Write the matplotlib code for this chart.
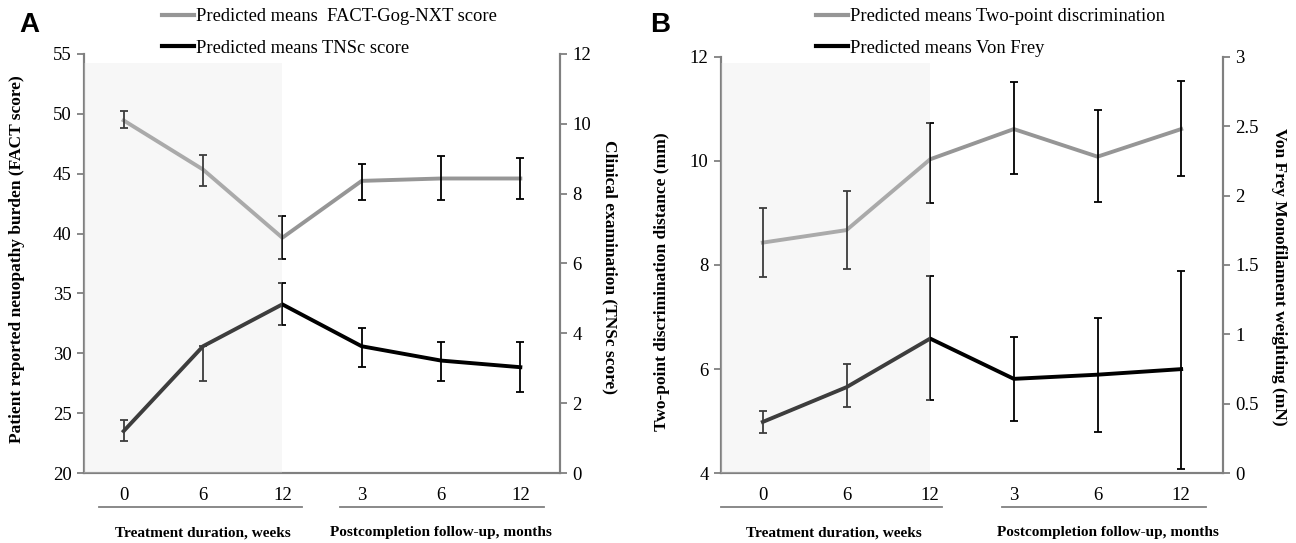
import matplotlib
matplotlib.use('Agg')
import matplotlib.pyplot as plt
import matplotlib.transforms as mtransforms
from matplotlib.patches import Rectangle
from matplotlib.lines import Line2D
import numpy as np

plt.rcParams['font.family'] = ['Liberation Serif', 'DejaVu Serif']

# 数据
x_labels = ['0', '6', '12', '3', '6', '12']

fact_mean = [49.45, 45.35, 39.65, 44.4, 44.6, 44.6]
fact_lo = [48.8, 44.0, 37.9, 42.8, 42.8, 42.9]
fact_hi = [50.2, 46.6, 41.5, 45.85, 46.45, 46.3]

tnsc_mean = [1.2, 3.63, 4.83, 3.63, 3.22, 3.03]
tnsc_lo = [0.91, 2.64, 4.25, 3.03, 2.64, 2.31]
tnsc_hi = [1.52, 3.63, 5.45, 4.15, 3.75, 3.75]

twopt_mean = [8.43, 8.67, 10.03, 10.61, 10.08, 10.61]
twopt_lo = [7.77, 7.92, 9.19, 9.74, 9.2, 9.71]
twopt_hi = [9.09, 9.42, 10.72, 11.52, 10.97, 11.54]

vf_mean = [0.37, 0.62, 0.97, 0.68, 0.71, 0.75]
vf_lo = [0.29, 0.48, 0.53, 0.38, 0.30, 0.03]
vf_hi = [0.45, 0.79, 1.42, 0.98, 1.12, 1.46]

GRAY = '#969696'
SPINE = '#808080'
FS = 12.5
TICK_FS = 13.5


def draw_panel(fig, rect, left, right, ylim_l, yticks_l, ylim_r, yticks_r, rticklabels,
               shade_top, under_l, under_r, grp_x):
    x = np.arange(len(x_labels))
    ax = fig.add_axes(rect)
    ax2 = ax.twinx()
    m, lo, hi = left
    ax.plot(x, m, color=GRAY, lw=2.8, zorder=3)
    ax.errorbar(x, m, yerr=[np.array(m) - np.array(lo), np.array(hi) - np.array(m)],
                fmt='none', ecolor='black', elinewidth=1.3, capsize=3.2, capthick=1.3, zorder=4)
    m, lo, hi = right
    ax2.plot(x, m, color='black', lw=2.8, zorder=3)
    ax2.errorbar(x, m, yerr=[np.array(m) - np.array(lo), np.array(hi) - np.array(m)],
                 fmt='none', ecolor='black', elinewidth=1.3, capsize=3.2, capthick=1.3, zorder=4)

    # 治疗期阴影（半透明覆盖）
    trans = mtransforms.blended_transform_factory(ax2.transData, ax2.transAxes)
    ax2.add_patch(Rectangle((-0.5, 0), 2.5, shade_top, transform=trans,
                            facecolor='#e2e2e2', alpha=0.27, edgecolor='none', zorder=10))

    ax.set_xlim(-0.5, 5.5)
    ax.set_ylim(*ylim_l)
    ax.set_yticks(yticks_l)
    ax2.set_ylim(*ylim_r)
    ax2.set_yticks(yticks_r)
    ax2.set_yticklabels(rticklabels)
    ax.set_xticks(x)
    ax.set_xticklabels(x_labels)
    ax.tick_params(axis='x', length=0, pad=10, labelsize=TICK_FS)
    ax.tick_params(axis='y', length=5, width=1.3, color=SPINE, pad=4, labelsize=TICK_FS)
    ax2.tick_params(axis='y', length=5, width=1.3, color=SPINE, pad=4, labelsize=TICK_FS)
    for a in (ax, ax2):
        a.spines['top'].set_visible(False)
        for s in ('left', 'right', 'bottom'):
            a.spines[s].set_color(SPINE)
            a.spines[s].set_linewidth(1.5)

    tb = mtransforms.blended_transform_factory(ax.transData, ax.transAxes)
    for x0, x1 in (under_l, under_r):
        ax.add_line(Line2D([x0, x1], [-0.082, -0.082], transform=tb, color=SPINE,
                           lw=1.3, clip_on=False))
    ax.text(grp_x[0], -0.143, 'Treatment duration, weeks', transform=tb, ha='center',
            va='center', fontsize=11, fontweight='bold')
    ax.text(grp_x[1], -0.143, 'Postcompletion follow-up, months', transform=tb, ha='center',
            va='center', fontsize=11, fontweight='bold')
    return ax, ax2


fig = plt.figure(figsize=(12.96, 5.43), dpi=100)

# A
axA, axA2 = draw_panel(fig, [84 / 1296, 0.1289, 476 / 1296, 0.7717],
                       (fact_mean, fact_lo, fact_hi), (tnsc_mean, tnsc_lo, tnsc_hi),
                       (20, 55), [20, 25, 30, 35, 40, 45, 50, 55],
                       (0, 12), [0, 2, 4, 6, 8, 10, 12], ['0', '2', '4', '6', '8', '10', '12'],
                       0.978, (-0.315, 2.25), (2.73, 5.30), (1.0, 4.0))
hA = [Line2D([], [], color=GRAY, lw=3), Line2D([], [], color='black', lw=3)]
axA.legend(hA, ['Predicted means  FACT-Gog-NXT score', 'Predicted means TNSc score'],
           loc='upper left', bbox_to_anchor=(162 / 1296, 1 - 8 / 543), bbox_transform=fig.transFigure,
           frameon=False, borderpad=0, borderaxespad=0, handlelength=1.75, handletextpad=0.1,
           labelspacing=0.8, fontsize=13.3)

fig.text(17 / 1296, 0.523, 'Patient reported neuopathy burden (FACT score)', rotation=90,
         ha='center', va='center', fontsize=FS, fontweight='bold')
fig.text(610 / 1296, 0.508, 'Clinical examination (TNSc score)', rotation=270,
         ha='center', va='center', fontsize=FS, fontweight='bold')

# B
axB, axB2 = draw_panel(fig, [721 / 1296, 0.1284, 502 / 1296, 0.7672],
                       (twopt_mean, twopt_lo, twopt_hi), (vf_mean, vf_lo, vf_hi),
                       (4, 12), [4, 6, 8, 10, 12],
                       (0, 3), [0, 0.5, 1, 1.5, 2, 2.5, 3], ['0', '0.5', '1', '1.5', '2', '2.5', '3'],
                       0.985, (-0.5, 2.14), (2.86, 5.30), (0.85, 4.13))
hB = [Line2D([], [], color=GRAY, lw=3), Line2D([], [], color='black', lw=3)]
axB.legend(hB, ['Predicted means Two-point discrimination', 'Predicted means Von Frey'],
           loc='upper left', bbox_to_anchor=(816 / 1296, 1 - 8 / 543), bbox_transform=fig.transFigure,
           frameon=False, borderpad=0, borderaxespad=0, handlelength=1.75, handletextpad=0.1,
           labelspacing=0.8, fontsize=13.3)

fig.text(662 / 1296, 0.481, 'Two-point discrimination distance (mm)', rotation=90,
         ha='center', va='center', fontsize=FS, fontweight='bold')
fig.text(1279 / 1296, 0.49, 'Von Frey Monofilament weighting (mN)', rotation=270,
         ha='center', va='center', fontsize=FS, fontweight='bold')

# 面板标签
fig.text(19 / 1296, 1 - 12 / 543, 'A', ha='left', va='top', fontsize=20, fontweight='bold',
         family='Liberation Sans')
fig.text(650 / 1296, 1 - 12 / 543, 'B', ha='left', va='top', fontsize=20, fontweight='bold',
         family='Liberation Sans')

fig.savefig('out.png', dpi=100)
